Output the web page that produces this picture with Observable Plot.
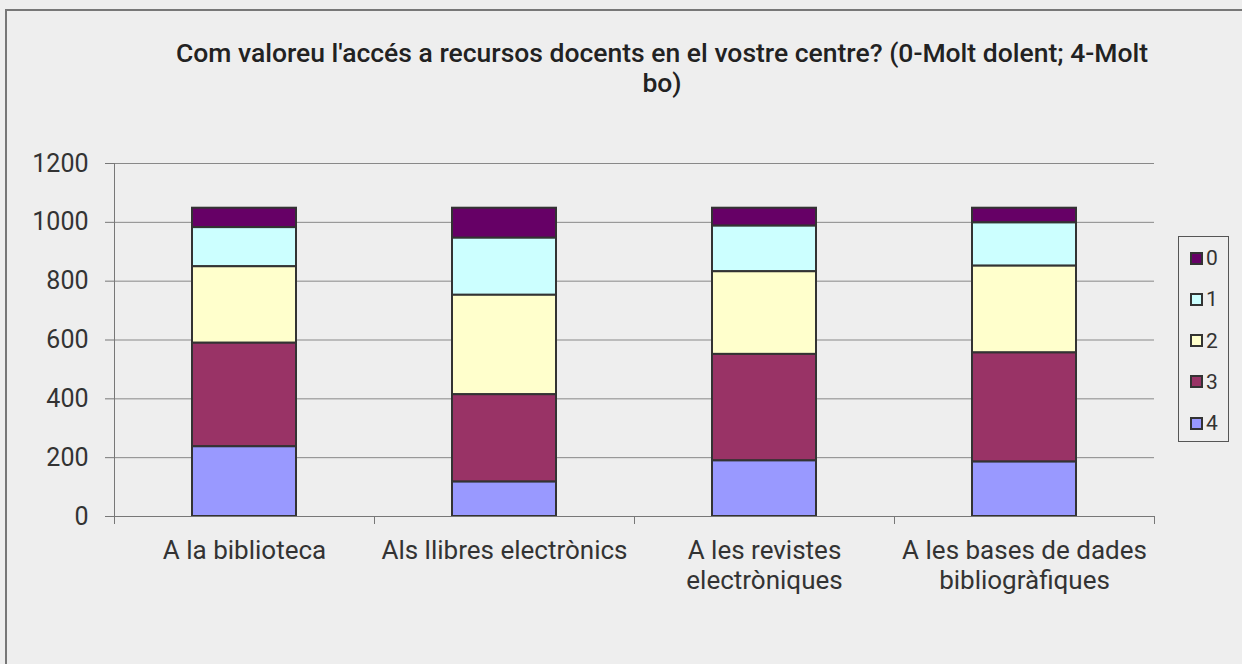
<!DOCTYPE html>
<html>
<head>
<meta charset="utf-8">
<script src="https://cdn.jsdelivr.net/npm/d3@7"></script>
<script src="https://cdn.jsdelivr.net/npm/@observablehq/plot@0.6"></script>
<style>
  html, body { margin: 0; padding: 0; background: #eeeeee; }
  #wrap { position: relative; width: 1242px; height: 664px; overflow: hidden; background: #eeeeee; font-family: Roboto, "Liberation Sans", sans-serif; color: #333; }
  #border { position: absolute; left: 5px; top: 9px; width: 1400px; height: 800px; border-left: 2px solid #777; border-top: 2px solid #777; }
  #title { position: absolute; left: 0; width: 1324px; top: 38px; text-align: center; font-size: 26.5px; line-height: 30px; font-weight: 500; color: #222; white-space: nowrap; }
  #legend { position: absolute; left: 1178px; top: 236px; width: 51px; height: 206px; border: 1px solid #555; box-sizing: border-box; }
  .li { position: absolute; left: 11px; height: 24px; display: flex; align-items: center; font-size: 21px; }
  .sw { width: 9px; height: 9px; border: 2px solid #333; margin-right: 3px; }
  #chart { position: absolute; left: 0; top: 0; }
</style>
</head>
<body>
<div id="wrap">
  <div id="border"></div>
  <div id="chart"></div>
  <div id="title"></div>
  <div id="legend"></div>
</div>
<script>
// ---- data ----
const titleLines = ["Com valoreu l'accés a recursos docents en el vostre centre? (0-Molt dolent; 4-Molt", "bo)"];
const categories = ["A la biblioteca", "Als llibres electrònics", "A les revistes\nelectròniques", "A les bases de dades\nbibliogràfiques"];
const grades = ["0", "1", "2", "3", "4"];
const gradeColors = ["#660066", "#ccffff", "#ffffcc", "#993366", "#9999ff"];
const values0 = [66, 102, 61, 50];
const values1 = [133, 194, 155, 147];
const values2 = [260, 338, 281, 295];
const values3 = [352, 297, 362, 371];
const values4 = [237, 117, 189, 185];
const yTicks = [0, 200, 400, 600, 800, 1000, 1200];

const seriesValues = [values0, values1, values2, values3, values4];
const rows = [];
grades.forEach((g, gi) => {
  categories.forEach((c, ci) => rows.push({cat: c, grade: g, value: seriesValues[gi][ci]}));
});
const stackOrder = grades.slice().reverse();

const W = 1242, H = 664, mL = 114, mR = 88, mT = 163, mB = 148;
const half = (W - mL - mR) / categories.length / 2;

const chart = Plot.plot({
  width: W, height: H,
  marginLeft: mL, marginRight: mR, marginTop: mT, marginBottom: mB,
  style: {background: "transparent", fontFamily: "Roboto, 'Liberation Sans', sans-serif", fontSize: "26px", color: "#333"},
  x: {domain: categories, paddingInner: 0.6, paddingOuter: 0.3, label: null},
  y: {domain: [0, 1200], label: null},
  color: {domain: grades, range: gradeColors},
  marks: [
    Plot.gridY(yTicks, {stroke: "#888", strokeOpacity: 1}),
    Plot.axisY(yTicks, {tickSize: 9, tickPadding: 17, label: null, stroke: "#777", fill: "#333", fontSize: 25, tickFormat: d3.format("d")}),
    Plot.ruleX([categories[0]], {x: d => d, y1: 0, y2: 1200, dx: -half, stroke: "#777"}),
    Plot.barY(rows, {x: "cat", y: "value", fill: "grade", order: stackOrder, stroke: "#333", strokeWidth: 2}),
    Plot.ruleY([0], {stroke: "#777"}),
    Plot.ruleX(categories, {x: d => d, y1: 0, y2: 0, insetBottom: -8, dx: -half, stroke: "#777"}),
    Plot.ruleX([categories[categories.length - 1]], {x: d => d, y1: 0, y2: 0, insetBottom: -8, dx: half, stroke: "#777"}),
    Plot.axisX({tickSize: 0, tickPadding: 22, lineHeight: 1.13, fontSize: 26, fill: "#333", label: null})
  ]
});
document.getElementById("chart").appendChild(chart);

document.getElementById("title").innerHTML = titleLines.map(s => s.replace(/&/g, "&amp;").replace(/</g, "&lt;")).join("<br>");

const legend = document.getElementById("legend");
grades.forEach((g, i) => {
  const item = document.createElement("div");
  item.className = "li";
  item.style.top = (9 + i * 41.3) + "px";
  const sw = document.createElement("div");
  sw.className = "sw";
  sw.style.background = gradeColors[i];
  const t = document.createElement("span");
  t.textContent = g;
  item.appendChild(sw);
  item.appendChild(t);
  legend.appendChild(item);
});
</script>
</body>
</html>
